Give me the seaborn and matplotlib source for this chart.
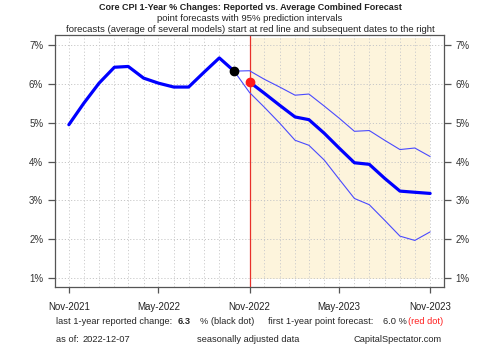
import matplotlib
matplotlib.use("Agg")
import matplotlib.pyplot as plt
import matplotlib.dates as mdates
import seaborn as sns
import pandas as pd
import numpy as np

# ---- data ----
reported_months = pd.date_range("2021-11-01", periods=12, freq="MS")
reported_values = [4.95, 5.5, 6.02, 6.43, 6.45, 6.15, 6.02, 5.92, 5.92, 6.3, 6.67, 6.33]

forecast_months = pd.date_range("2022-11-01", periods=13, freq="MS")
forecast_mean = [6.05, 5.76, 5.45, 5.15, 5.08, 4.73, 4.35, 3.97, 3.93, 3.57, 3.24, 3.21, 3.18]

band_months = pd.date_range("2022-10-01", periods=14, freq="MS")
band_upper = [6.33, 6.34, 6.12, 5.92, 5.71, 5.74, 5.43, 5.12, 4.78, 4.8, 4.55, 4.31, 4.35, 4.13]
band_lower = [6.33, 5.78, 5.4, 4.99, 4.55, 4.42, 4.04, 3.55, 3.05, 2.89, 2.49, 2.08, 1.97, 2.19]

last_reported = 6.3
first_forecast = 6.0
as_of = "2022-12-07"

yticks = [1, 2, 3, 4, 5, 6, 7]

rep_df = pd.DataFrame({"date": reported_months, "value": reported_values})
fc_df = pd.DataFrame({"date": forecast_months, "value": forecast_mean})
band_df = pd.DataFrame({"date": band_months, "upper": band_upper, "lower": band_lower})

sns.set_style("white")
plt.rcParams["font.family"] = ["Liberation Sans", "DejaVu Sans"]

fig = plt.figure(figsize=(5, 3.46), dpi=100)
ax = fig.add_axes([0.11, 0.1705, 0.778, 0.7283])

x0 = pd.Timestamp("2021-11-01") - pd.Timedelta(days=28)
x1 = pd.Timestamp("2023-11-01") + pd.Timedelta(days=28)
ax.set_xlim(x0, x1)
ax.set_ylim(0.77, 7.26)

# shaded forecast region
ylo, yhi = ax.get_ylim()
ax.axvspan(forecast_months[0], forecast_months[-1],
           ymin=(0.98 - ylo) / (yhi - ylo), ymax=(7.18 - ylo) / (yhi - ylo),
           color="#fdf4dc", lw=0, zorder=0)

# grid
ax.xaxis.set_major_locator(mdates.MonthLocator(bymonth=[5, 11]))
ax.xaxis.set_minor_locator(mdates.MonthLocator())
ax.xaxis.set_major_formatter(mdates.DateFormatter("%b-%Y"))
ax.set_yticks(yticks)
ax.set_yticklabels([f"{v}%" for v in yticks])
ax.grid(True, which="both", axis="x", color="#cccccc", linestyle=(0, (1.2, 2.2)), lw=0.7, zorder=1)
ax.grid(True, which="major", axis="y", color="#c8c8c8", linestyle=(0, (1.2, 2)), lw=0.7, zorder=1)

# red vertical line
ax.axvline(forecast_months[0], color="#e8302a", lw=0.9, zorder=2)

# bands
sns.lineplot(data=band_df, x="date", y="upper", ax=ax, color="#4a4aff", lw=0.8, zorder=3)
sns.lineplot(data=band_df, x="date", y="lower", ax=ax, color="#4a4aff", lw=0.8, zorder=3)
# lines
sns.lineplot(data=rep_df, x="date", y="value", ax=ax, color="#0000ff", lw=2.3, zorder=4)
sns.lineplot(data=fc_df, x="date", y="value", ax=ax, color="#0000ff", lw=2.3, zorder=4)

ax.plot(reported_months[-1:], reported_values[-1:], "o", color="black", ms=6, zorder=5)
ax.plot(forecast_months[:1], forecast_mean[:1], "o", color="#ff1a1a", ms=6, zorder=5)

ax.set_xlabel("")
ax.set_ylabel("")

for s in ax.spines.values():
    s.set_color("#555555")
    s.set_linewidth(0.9)

ax.tick_params(axis="y", which="major", left=True, right=True, labelleft=True, labelright=True,
               length=5, width=0.9, color="#555555", pad=3.5, labelsize=7, labelcolor="#333333")
ax.tick_params(axis="x", which="major", bottom=True, length=4, width=0.9, color="#555555",
               pad=7, labelsize=7, labelcolor="#222222")
ax.tick_params(axis="x", which="minor", bottom=False, length=0)

# titles
fig.text(0.5, 1 - 7 / 346, "Core CPI 1-Year % Changes: Reported vs. Average Combined Forecast",
         ha="center", va="center", fontsize=6.5, fontweight="bold", color="#222222")
fig.text(0.5, 1 - 18.5 / 346, "point forecasts with 95% prediction intervals",
         ha="center", va="center", fontsize=6.8, color="#222222")
fig.text(0.5, 1 - 29 / 346,
         "forecasts (average of several models) start at red line and subsequent dates to the right",
         ha="center", va="center", fontsize=6.8, color="#222222")

# bottom notes
yb1 = 1 - 322 / 346
yb2 = 1 - 339 / 346
fs = 6.7
fig.text(56 / 500, yb1, "last 1-year reported change:", ha="left", va="center", fontsize=fs)
fig.text(178 / 500, yb1, f"{last_reported:.1f}", ha="left", va="center", fontsize=fs, fontweight="bold")
fig.text(200 / 500, yb1, "% (black dot)", ha="left", va="center", fontsize=fs)
fig.text(268 / 500, yb1, "first 1-year point forecast:", ha="left", va="center", fontsize=fs)
fig.text(383 / 500, yb1, f"{first_forecast:.1f} %", ha="left", va="center", fontsize=fs)
fig.text(408 / 500, yb1, "(red dot)", ha="left", va="center", fontsize=fs, color="#ff2020")
fig.text(56 / 500, yb2, "as of:", ha="left", va="center", fontsize=fs)
fig.text(83 / 500, yb2, as_of, ha="left", va="center", fontsize=fs)
fig.text(197 / 500, yb2, "seasonally adjusted data", ha="left", va="center", fontsize=fs)
fig.text(353 / 500, yb2, "CapitalSpectator.com", ha="left", va="center", fontsize=fs)

fig.savefig("out.png", dpi=100)
